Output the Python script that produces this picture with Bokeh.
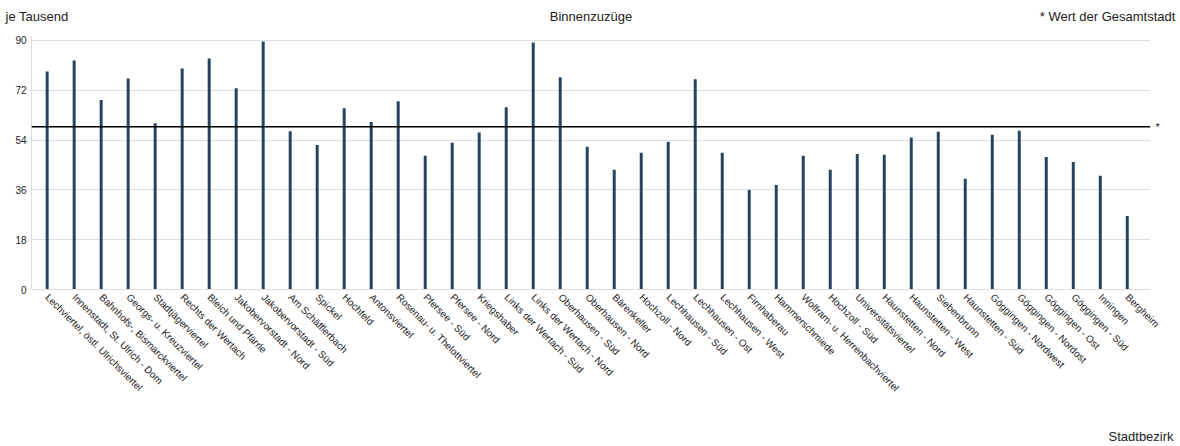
import math
from bokeh.plotting import figure
from bokeh.models import FixedTicker, Span, ColumnDataSource, LinearAxis
from bokeh.embed import file_html
from bokeh.resources import INLINE

# ---------------- data ----------------
stadtbezirke = [
    "Lechviertel, östl. Ulrichsviertel",
    "Innenstadt, St. Ulrich - Dom",
    "Bahnhofs-, Bismarckviertel",
    "Georgs- u. Kreuzviertel",
    "Stadtjägerviertel",
    "Rechts der Wertach",
    "Bleich und Pfärrle",
    "Jakobervorstadt - Nord",
    "Jakobervorstadt - Süd",
    "Am Schäfflerbach",
    "Spickel",
    "Hochfeld",
    "Antonsviertel",
    "Rosenau- u. Thelottviertel",
    "Pfersee - Süd",
    "Pfersee - Nord",
    "Kriegshaber",
    "Links der Wertach - Süd",
    "Links der Wertach - Nord",
    "Oberhausen - Süd",
    "Oberhausen - Nord",
    "Bärenkeller",
    "Hochzoll - Nord",
    "Lechhausen - Süd",
    "Lechhausen - Ost",
    "Lechhausen - West",
    "Firnhaberau",
    "Hammerschmiede",
    "Wolfram- u. Herrenbachviertel",
    "Hochzoll - Süd",
    "Universitätsviertel",
    "Haunstetten - Nord",
    "Haunstetten - West",
    "Siebenbrunn",
    "Haunstetten - Süd",
    "Göggingen - Nordwest",
    "Göggingen - Nordost",
    "Göggingen - Ost",
    "Göggingen - Süd",
    "Inningen",
    "Bergheim",
]

binnenzuzuege = [
    78.8, 82.8, 68.5, 76.3, 60.1, 79.9, 83.5, 72.7, 89.6, 57.2,
    52.2, 65.5, 60.5, 68.0, 48.3, 53.0, 56.7, 65.9, 89.3, 76.7,
    51.6, 43.3, 49.4, 53.4, 76.0, 49.4, 36.0, 37.8, 48.3, 43.3,
    49.0, 48.7, 54.9, 57.0, 40.0, 55.9, 57.4, 47.9, 46.1, 41.1,
    26.6,
]

gesamtstadt = 58.8
y_ticks = [0, 18, 36, 54, 72, 90]

title_text = "Binnenzuzüge"
unit_text = "je Tausend"
note_text = "* Wert der Gesamtstadt"
xaxis_text = "Stadtbezirk"

# ---------------- styling ----------------
FONT = "Liberation Sans"
BAR_COLOR = "#25435f"
TEXT_COLOR = "#222222"
GRID_COLOR = "#dddddd"

idx = list(range(len(stadtbezirke)))
source = ColumnDataSource(dict(x=idx, top=binnenzuzuege, name=stadtbezirke))

p = figure(
    width=1180, height=446,
    x_range=(-0.58, 40.86), y_range=(0, 91.8),
    output_backend="svg", toolbar_location=None,
    min_border_left=31, min_border_right=30,
    min_border_top=35, min_border_bottom=156,
    title=None,
)
p.outline_line_color = None

p.vbar(x="x", top="top", width=0.11, source=source,
       fill_color=BAR_COLOR, line_color=None)

# city-wide value
p.add_layout(Span(location=gesamtstadt, dimension="width",
                  line_color="black", line_width=1.5))

# grid
p.xgrid.visible = False
p.ygrid.grid_line_color = GRID_COLOR
p.ygrid.grid_line_width = 1
p.ygrid.ticker = FixedTicker(ticks=y_ticks)


def plain_axis(axis, size="10px", standoff=5):
    axis.axis_line_color = None
    axis.major_tick_line_color = None
    axis.minor_tick_line_color = None
    axis.major_tick_out = 0
    axis.major_tick_in = 0
    axis.major_label_standoff = standoff
    axis.major_label_text_font = FONT
    axis.major_label_text_font_size = size
    axis.major_label_text_color = TEXT_COLOR


# y axis
p.yaxis.ticker = FixedTicker(ticks=y_ticks)
plain_axis(p.yaxis[0], standoff=5)
p.yaxis.axis_line_color = GRID_COLOR

# x axis with district names
p.xaxis.ticker = FixedTicker(ticks=idx)
p.xaxis.major_label_overrides = {i: n for i, n in zip(idx, stadtbezirke)}
p.xaxis.major_label_orientation = -math.pi / 4
plain_axis(p.xaxis[0], standoff=6)
p.xaxis.axis_line_color = GRID_COLOR

# "*" marker for the city-wide line (right side)
star_axis = LinearAxis(ticker=FixedTicker(ticks=[gesamtstadt]),
                       major_label_overrides={gesamtstadt: "*"})
plain_axis(star_axis, size="11px", standoff=5)
p.add_layout(star_axis, "right")

# header row: unit (left), title (centre), note (right)
header_pos = [-0.378, 20.14, 39.27]
header_axis = LinearAxis(ticker=FixedTicker(ticks=header_pos),
                         major_label_overrides=dict(zip(header_pos, [unit_text, title_text, note_text])))
plain_axis(header_axis, size="13px", standoff=12)
p.add_layout(header_axis, "above")

# footer: x axis title at the bottom right
footer_pos = [40.51]
footer_axis = LinearAxis(ticker=FixedTicker(ticks=footer_pos),
                         major_label_overrides={footer_pos[0]: xaxis_text})
plain_axis(footer_axis, size="13px", standoff=28)
p.add_layout(footer_axis, "below")

open("out.html", "w").write(file_html(p, INLINE))
